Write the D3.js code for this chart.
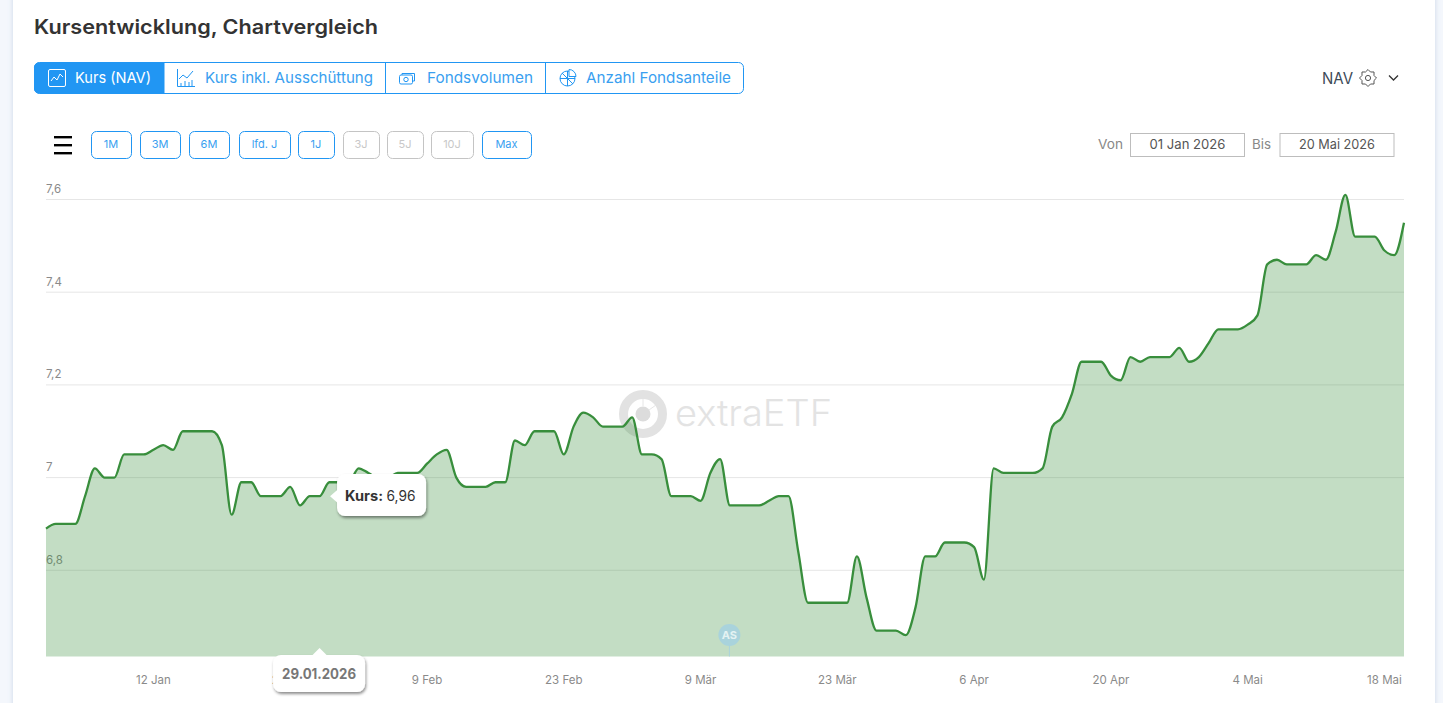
<!DOCTYPE html>
<html lang="de"><head><meta charset="utf-8">
<script src="https://cdn.jsdelivr.net/npm/d3@7/dist/d3.min.js"></script>
<style>
html,body{margin:0;padding:0;background:#f4f7fc;overflow:hidden}
svg{display:block}
text{font-family:Inter,"Open Sans",sans-serif}
</style></head><body><svg id="c" width="1443" height="703"></svg>
<script>
const startDate = new Date(2026,0,1), endDate = new Date(2026,4,20);
const kurs = [6.89,6.90,6.90,6.90,6.96,7.02,7.00,7.00,7.05,7.05,7.05,7.06,7.07,7.06,7.10,7.10,7.10,7.10,7.07,6.92,
6.99,6.99,6.96,6.96,6.96,6.98,6.94,6.96,6.96,6.99,6.99,6.99,7.02,7.01,7.00,7.00,7.01,7.01,7.01,7.03,
7.05,7.06,7.00,6.98,6.98,6.98,6.99,6.99,7.08,7.07,7.10,7.10,7.10,7.05,7.11,7.14,7.13,7.11,7.11,7.11,
7.13,7.05,7.05,7.04,6.96,6.96,6.96,6.95,7.01,7.04,6.94,6.94,6.94,6.94,6.95,6.96,6.96,6.84,6.73,6.73,
6.73,6.73,6.73,6.83,6.74,6.67,6.67,6.67,6.66,6.72,6.83,6.83,6.86,6.86,6.86,6.85,6.78,7.02,7.01,7.01,
7.01,7.01,7.02,7.11,7.13,7.18,7.25,7.25,7.25,7.22,7.21,7.26,7.25,7.26,7.26,7.26,7.28,7.25,7.26,7.29,
7.32,7.32,7.32,7.33,7.35,7.46,7.47,7.46,7.46,7.46,7.48,7.47,7.53,7.61,7.52,7.52,7.52,7.49,7.48,7.55];
const dates = kurs.map((_,i)=>d3.timeDay.offset(startDate,i));
const yTicks = [6.8,7,7.2,7.4,7.6];
const xTickDates = [[0,12],[0,26],[1,9],[1,23],[2,9],[2,23],[3,6],[3,20],[4,4],[4,18]];
const months = ["Jan","Feb","Mär","Apr","Mai"];
const tabs = ["Kurs (NAV)","Kurs inkl. Ausschüttung","Fondsvolumen","Anzahl Fondsanteile"];
const ranges = ["1M","3M","6M","lfd. J","1J","3J","5J","10J","Max"];
const rangeOff = ["3J","5J","10J"];
const hoverIndex = 28;
const flagDate = new Date(2026,2,12);

const BLUE="#2196f3", GREEN="#388e3c";
const svg=d3.select("#c");
const defs=svg.append("defs");
const f=defs.append("filter").attr("id","sh").attr("x","-20%").attr("y","-30%").attr("width","140%").attr("height","170%");
f.append("feDropShadow").attr("dx",1).attr("dy",2).attr("stdDeviation",1.6).attr("flood-color","#000").attr("flood-opacity",.45);
const cs=defs.append("filter").attr("id","card").attr("x","-2%").attr("y","-5%").attr("width","104%").attr("height","110%");
cs.append("feDropShadow").attr("dx",0).attr("dy",0).attr("stdDeviation",2.5).attr("flood-color","#9fb3d0").attr("flood-opacity",.5);

svg.append("rect").attr("x",13).attr("y",-20).attr("width",1422).attr("height",760).attr("fill","#fff").attr("filter","url(#card)");

function T(g,s,x,y,o={}){
  const t=g.append("text").attr("x",x).attr("y",y).text(s)
   .attr("fill",o.fill||"#333").attr("font-size",o.size||14).attr("font-weight",o.weight||400)
   .attr("text-anchor",o.anchor||"start").attr("dominant-baseline","central");
  if(o.len) t.attr("textLength",o.len).attr("lengthAdjust","spacingAndGlyphs");
  if(o.op) t.attr("opacity",o.op);
  return t;
}
T(svg,"Kursentwicklung, Chartvergleich",34,27,{size:20,weight:600,fill:"#333",len:344});

// tabs
const tabEdges=[34,163.5,385,545,744];
const tabText=[[75,76],[205,168],[427,106],[586,145]];
svg.append("path").attr("d","M164 62.5H39a5 5 0 0 0-5 5v21a5 5 0 0 0 5 5h125z").attr("fill",BLUE);
svg.append("rect").attr("x",34.5).attr("y",62.5).attr("width",709).attr("height",31).attr("rx",5).attr("fill","none").attr("stroke",BLUE);
tabEdges.slice(1,4).forEach(x=>svg.append("line").attr("x1",x+.5).attr("x2",x+.5).attr("y1",62).attr("y2",94).attr("stroke",BLUE));
tabs.forEach((s,i)=>T(svg,s,tabText[i][0],77.5,{size:15,fill:i?"#3a9ff0":"#fff",len:tabText[i][1]}));
// tab icons
const ic=(x,y,c)=>svg.append("g").attr("transform",`translate(${x},${y})`).attr("fill","none").attr("stroke",c).attr("stroke-width",1);
let g=ic(48,69,"#fff");g.append("rect").attr("x",.5).attr("y",.5).attr("width",17).attr("height",17).attr("rx",1.5);g.append("path").attr("d","M3 12l3-4 3 3 3-6 3 3");
g=ic(177,69,BLUE);g.append("path").attr("d","M.5 0v17.5H18M2 10l4-4 4 3 6-7M4 17v-3M8 17v-5M12 17v-4M15 17v-6");
g=ic(399,72,BLUE);g.append("rect").attr("x",.5).attr("y",3).attr("width",13).attr("height",9).attr("rx",1.5);g.append("path").attr("d","M3 3V1.5h12.5V9H14");g.append("circle").attr("cx",7).attr("cy",7.5).attr("r",2.2);
g=ic(559,69,BLUE);g.append("circle").attr("cx",8.5).attr("cy",9.5).attr("r",7.5);g.append("path").attr("d","M8.5 2v15M1 9.5h15M3 4l11 11");g.append("path").attr("d","M10 0.5a7 7 0 0 1 7 7h-7z").attr("fill","#fff");

// NAV
T(svg,"NAV",1322,77.5,{size:16,fill:"#3c4a57",len:31});
g=svg.append("g").attr("transform","translate(1368,78)").attr("fill","none").attr("stroke","#555");
g.append("circle").attr("r",2.6);
g.append("path").attr("d",d3.range(8).map(i=>{const a=i*Math.PI/4,b=a+Math.PI/8;return `${i?"L":"M"}${8.5*Math.cos(a)} ${8.5*Math.sin(a)}L${6.5*Math.cos(b)} ${6.5*Math.sin(b)}`}).join("")+"Z");
svg.append("path").attr("d","M1389 75.5l4.5 4.5 4.5-4.5").attr("fill","none").attr("stroke","#333").attr("stroke-width",1.3);

// hamburger
[136,144,152].forEach(y=>svg.append("rect").attr("x",54).attr("y",y).attr("width",18).attr("height",2.4).attr("fill","#000"));
// range buttons
const rangeBox=[[91,132],[140,181],[189,230],[239,291],[298,335],[343,380],[387,424],[431,474],[482,532]];
ranges.forEach((s,i)=>{
  const off=rangeOff.includes(s),[a,b]=rangeBox[i];
  svg.append("rect").attr("x",a+.5).attr("y",131.5).attr("width",b-a-1).attr("height",27).attr("rx",5).attr("fill","#fff").attr("stroke",off?"#c4c4c4":BLUE);
  T(svg,s,(a+b)/2-.5,144,{size:11,anchor:"middle",fill:off?"#c8c8c8":"#3a9ff0"});
});
// date inputs
T(svg,"Von",1098,144,{size:13.5,fill:"#888",len:25});
T(svg,"Bis",1252,144,{size:13.5,fill:"#888",len:19});
[[1131,"01 Jan 2026"],[1280.5,"20 Mai 2026"]].forEach(([x,s])=>{
  svg.append("rect").attr("x",x-.5).attr("y",133.5).attr("width",114).attr("height",23).attr("fill","#fff").attr("stroke","#bdbdbd");
  T(svg,s,x+56.5,144,{size:13.5,anchor:"middle",fill:"#555",len:76});
});

// chart
const x=d3.scaleTime().domain([startDate,endDate]).range([46,1404]);
const y=d3.scaleLinear().domain([6.6,7.6]).range([663,199.5]);
const base=656.5;
const grid=svg.append("g");
yTicks.forEach(v=>{
  grid.append("line").attr("x1",46).attr("x2",1404).attr("y1",y(v)).attr("y2",y(v)).attr("stroke","#e6e6e6");
  T(grid,String(v).replace(".",","),46,y(v)-10.5,{size:11.5,fill:"#8a8a8a"});
});
// watermark
const wm=svg.append("g").attr("transform","translate(643,414)");
wm.append("circle").attr("r",19.5).attr("fill","none").attr("stroke","#e2e2e2").attr("stroke-width",9);
wm.append("circle").attr("r",7.5).attr("fill","#dcdcdc");
wm.append("path").attr("d","M0-15V-8M13-9L6-4").attr("stroke","#e6e6e6");
T(svg,"extraETF",675,412,{size:37,weight:300,fill:"#e3e3e3",len:157});

const area=d3.area().x((d,i)=>x(dates[i])).y0(base).y1(d=>y(d)).curve(d3.curveMonotoneX);
const line=d3.line().x((d,i)=>x(dates[i])).y(d=>y(d)).curve(d3.curveMonotoneX);
svg.append("path").datum(kurs).attr("d",area).attr("fill",GREEN).attr("fill-opacity",.3);
svg.append("path").datum(kurs).attr("d",line).attr("fill","none").attr("stroke",GREEN).attr("stroke-width",2.3);

// flag
const fx=x(flagDate)-.5;
svg.append("line").attr("x1",fx).attr("x2",fx).attr("y1",640).attr("y2",base).attr("stroke","#a9d3dc");
svg.append("circle").attr("cx",fx).attr("cy",635).attr("r",11).attr("fill","#a9d3dc");
T(svg,"AS",fx,634.5,{size:11,weight:700,fill:"#e4f2f2",anchor:"middle"});

// x ticks
xTickDates.forEach(([m,d])=>T(svg,`${d} ${months[m]}`,x(new Date(2026,m,d)),679.5,{size:11.5,fill:"#8a8a8a",anchor:"middle"}));

// tooltips
const hx=x(dates[hoverIndex]), hy=y(kurs[hoverIndex]);
const tipRect=(px,py,w,h)=>svg.append("rect").attr("x",px).attr("y",py).attr("width",w).attr("height",h).attr("rx",8).attr("fill","#fff").attr("filter","url(#sh)");
const k=hx+17.5;
tipRect(k,474,89,42);
svg.append("path").attr("d",`M${k+1} ${hy-7}L${k-7} ${hy}L${k+1} ${hy+7}Z`).attr("fill","#fff");
T(svg,"Kurs:",k+8,495,{size:14,weight:700,fill:"#333",len:38});
T(svg,String(kurs[hoverIndex]).replace(".",","),k+49.5,495,{size:14,fill:"#333",len:29});
tipRect(hx-46.5,655,92,37);
svg.append("path").attr("d",`M${hx-8} 656L${hx} 648L${hx+8} 656Z`).attr("fill","#fff");
T(svg,d3.timeFormat("%d.%m.%Y")(dates[hoverIndex]),hx-37.5,673,{size:14.5,weight:700,fill:"#777",len:74});
</script></body></html>
